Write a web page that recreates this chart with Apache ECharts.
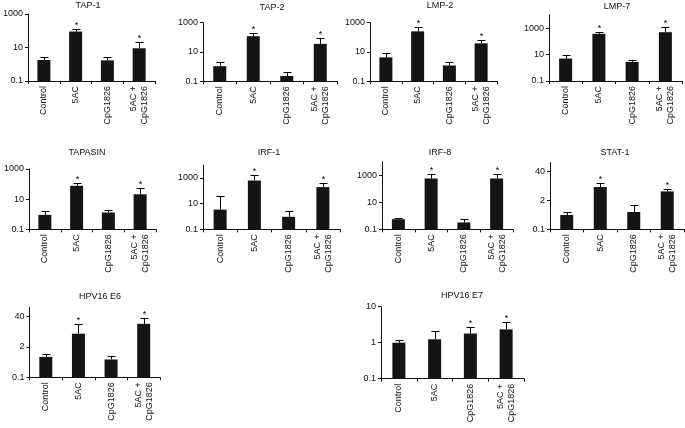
<!DOCTYPE html>
<html><head><meta charset="utf-8">
<script src="https://cdn.jsdelivr.net/npm/echarts@6/dist/echarts.min.js"></script>
<style>html,body{margin:0;padding:0;background:#fff}#c{width:685px;height:428px}</style>
</head><body><div id="c"></div>
<script>
// ---- data ----
const categories = ['Control', '5AC', 'CpG1826', '5AC +\nCpG1826'];
const panelTitles = ['TAP-1', 'TAP-2', 'LMP-2', 'LMP-7', 'TAPASIN', 'IRF-1', 'IRF-8', 'STAT-1', 'HPV16 E6', 'HPV16 E7'];

const tap1Mean = [1.8, 90, 1.7, 9];        const tap1Upper = [2.9, 130, 2.9, 20];      const tap1Sig = [0, 1, 0, 1];
const tap2Mean = [1.08, 120, 0.23, 36];    const tap2Upper = [2.0, 200, 0.45, 87];     const tap2Sig = [0, 1, 0, 1];
const lmp2Mean = [4.3, 257, 1.2, 39];      const lmp2Upper = [8.1, 480, 2.1, 66];      const lmp2Sig = [0, 1, 0, 1];
const lmp7Mean = [5, 376, 2.8, 500];       const lmp7Upper = [10, 562, 3.8, 1330];     const lmp7Sig = [0, 1, 0, 1];
const tapasinMean = [0.91, 77, 1.3, 21];   const tapasinUpper = [1.6, 120, 2.0, 59];   const tapasinSig = [0, 1, 0, 1];
const irf1Mean = [3.4, 617, 0.94, 191];    const irf1Upper = [38, 1700, 2.6, 390];     const irf1Sig = [0, 1, 0, 1];
const irf8Mean = [0.56, 575, 0.32, 575];   const irf8Upper = [0.63, 1320, 0.56, 1250]; const irf8Sig = [0, 1, 0, 1];
const stat1Mean = [0.44, 8, 0.6, 5.1];     const stat1Upper = [0.62, 12.5, 1.2, 6.7];  const stat1Sig = [0, 1, 0, 1];
const e6Mean = [0.75, 7.4, 0.58, 19.6];    const e6Upper = [0.98, 19.6, 0.8, 34];      const e6Sig = [0, 1, 0, 1];
const e7Mean = [1.0, 1.24, 1.8, 2.35];     const e7Upper = [1.16, 2.15, 2.8, 3.8];     const e7Sig = [0, 0, 1, 1];

const ticks100 = [0.1, 10, 1000];
const ticks20 = [0.1, 2, 40];
const ticks10 = [0.1, 1, 10];
const axisTops = [1000, 1000, 1000, 10000, 1000, 10000, 10000, 100, 100, 10];

const means = [tap1Mean, tap2Mean, lmp2Mean, lmp7Mean, tapasinMean, irf1Mean, irf8Mean, stat1Mean, e6Mean, e7Mean];
const uppers = [tap1Upper, tap2Upper, lmp2Upper, lmp7Upper, tapasinUpper, irf1Upper, irf8Upper, stat1Upper, e6Upper, e7Upper];
const sigs = [tap1Sig, tap2Sig, lmp2Sig, lmp7Sig, tapasinSig, irf1Sig, irf8Sig, stat1Sig, e6Sig, e7Sig];
const tickSets = [ticks100, ticks100, ticks100, ticks100, ticks100, ticks100, ticks100, ticks20, ticks20, ticks10];

// ---- layout (px) ----
const grids = [
  {l: 28, t: 14, r: 155, b: 81},
  {l: 203, t: 22.7, r: 337, b: 81.3},
  {l: 370, t: 22.7, r: 497, b: 81.3},
  {l: 549, t: 15, r: 682, b: 81},
  {l: 29, t: 169, r: 156, b: 229.3},
  {l: 203, t: 165, r: 340, b: 229.3},
  {l: 382, t: 161.7, r: 513, b: 229.3},
  {l: 550, t: 162.7, r: 684, b: 229.3},
  {l: 29.5, t: 307.3, r: 160, b: 377.3},
  {l: 381, t: 306.7, r: 524, b: 378.7}
];
const titlePos = [[88, 6], [272, 8], [440, 6], [617, 6.5], [87, 152.5], [269, 152.5], [440, 152.5], [615, 153], [100, 296.5], [462, 296]];

const FONT = '"Liberation Sans", Arial, Helvetica, sans-serif';
const INK = '#111';

function tr(v, ticks) {
  const base = ticks[1] / ticks[0];
  return Math.log(v / ticks[0]) / Math.log(base);
}

const option = {
  animation: false,
  backgroundColor: '#fff',
  title: [], grid: [], xAxis: [], yAxis: [], series: []
};

for (let i = 0; i < 10; i++) {
  const g = grids[i];
  const ticks = tickSets[i];
  option.grid.push({left: g.l, top: g.t, width: g.r - g.l, height: g.b - g.t, containLabel: false});
  option.title.push({
    text: panelTitles[i], left: titlePos[i][0], top: titlePos[i][1], padding: 0,
    textAlign: 'center', textVerticalAlign: 'middle',
    textStyle: {fontFamily: FONT, fontSize: 9, fontWeight: 'normal', color: INK}
  });
  option.xAxis.push({
    type: 'category', gridIndex: i, data: categories, boundaryGap: true,
    axisLine: {show: true, lineStyle: {color: INK, width: 1}},
    axisTick: {show: true, length: 3, interval: 0, lineStyle: {color: INK}},
    axisLabel: {rotate: 90, interval: 0, fontSize: 9, lineHeight: 11, margin: 5, color: INK, fontFamily: FONT},
    splitLine: {show: false}
  });
  const tickT = ticks.map(v => tr(v, ticks));
  option.yAxis.push({
    type: 'value', gridIndex: i, min: 0, max: tr(axisTops[i], ticks), interval: 1,
    axisLine: {show: true, lineStyle: {color: INK, width: 1}},
    axisTick: {show: true, length: 3, lineStyle: {color: INK}, customValues: tickT},
    axisLabel: {
      fontSize: 9, margin: 5, color: INK, fontFamily: FONT, customValues: tickT,
      formatter: function (val) {
        const idx = Math.round(val);
        return ticks[idx] !== undefined && Math.abs(val - idx) < 1e-6 ? String(ticks[idx]) : '';
      }
    },
    splitLine: {show: false}
  });
  option.series.push({
    type: 'bar', xAxisIndex: i, yAxisIndex: i, barWidth: 13,
    itemStyle: {color: '#141414'},
    data: means[i].map(v => tr(v, ticks)),
    silent: true
  });
  option.series.push({
    type: 'custom', xAxisIndex: i, yAxisIndex: i, z: 5, silent: true,
    encode: {x: 0, y: [1, 2]},
    data: means[i].map((v, k) => [k, tr(v, ticks), tr(uppers[i][k], ticks), sigs[i][k]]),
    renderItem: function (params, api) {
      const x = api.value(0);
      const p0 = api.coord([x, api.value(1)]);
      const p1 = api.coord([x, api.value(2)]);
      const cx = Math.round(p0[0]) + 0.5;
      const yTop = Math.round(p1[1]) + 0.5;
      const half = 4;
      const children = [
        {type: 'line', shape: {x1: cx, y1: p0[1], x2: cx, y2: yTop}, style: {stroke: '#000', lineWidth: 1}},
        {type: 'line', shape: {x1: cx - half, y1: yTop, x2: cx + half, y2: yTop}, style: {stroke: '#000', lineWidth: 1}}
      ];
      if (api.value(3)) {
        children.push({type: 'text', style: {text: '*', x: cx, y: yTop - 4, align: 'center', verticalAlign: 'middle', fontSize: 9, fill: '#000', fontFamily: FONT}});
      }
      return {type: 'group', children: children};
    }
  });
}

const chart = echarts.init(document.getElementById('c'), null, {renderer: 'canvas'});
chart.setOption(option);
</script>
</body></html>
